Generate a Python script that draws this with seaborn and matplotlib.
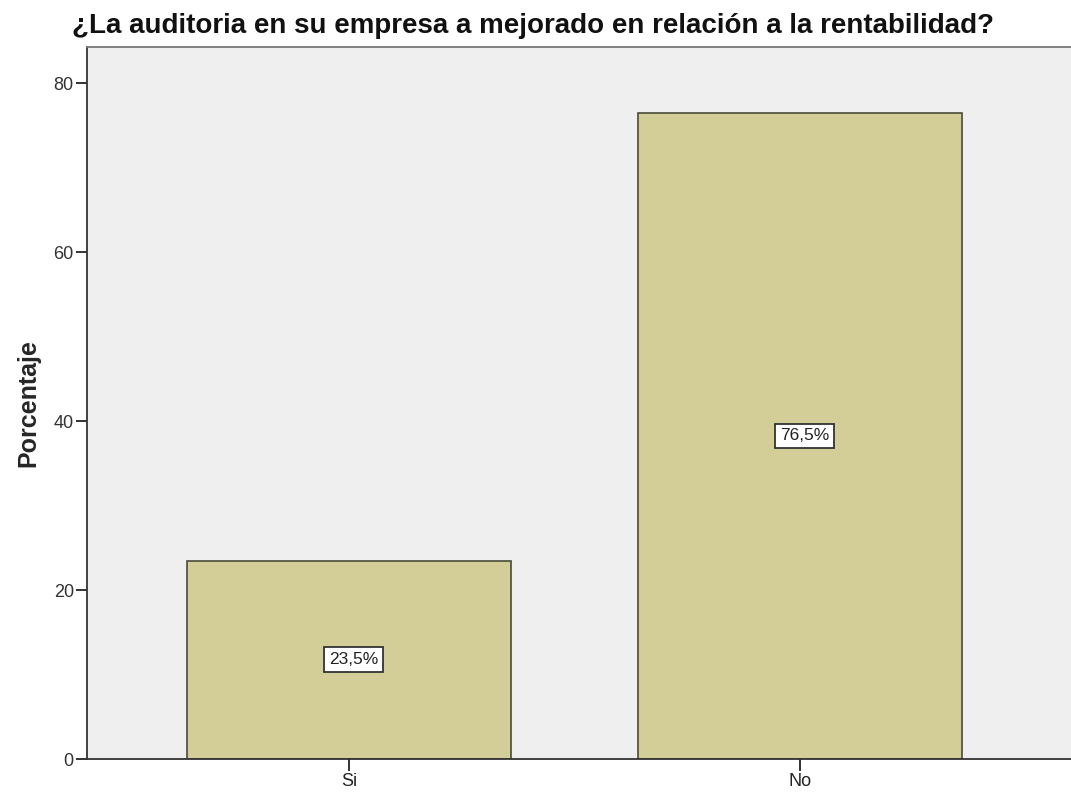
import matplotlib.pyplot as plt
import pandas as pd
import seaborn as sns

# Data
categories = ["Si", "No"]
percentages = [23.5, 76.5]
bar_labels = ["23,5%", "76,5%"]
y_ticks = [0, 20, 40, 60, 80]

df = pd.DataFrame({"respuesta": categories, "porcentaje": percentages})

sns.set_style("white")
plt.rcParams["font.family"] = ["Liberation Sans", "DejaVu Sans"]

fig = plt.figure(figsize=(10.71, 7.94), dpi=100)
ax = fig.add_axes([87 / 1071, 35 / 794, 1 - 87 / 1071, 712 / 794])
ax.set_facecolor("#efefef")

sns.barplot(
    data=df, x="respuesta", y="porcentaje", order=categories,
    color="#d3ce97", edgecolor="#4a4a3a", linewidth=1.2,
    width=0.72, saturation=1, ax=ax,
)

# value boxes in the middle of each bar
for i, (val, lab) in enumerate(zip(percentages, bar_labels)):
    ax.text(
        i + 0.01, val / 2, lab, ha="center", va="center", fontsize=12.5,
        color="#222222",
        bbox=dict(boxstyle="square,pad=0.28", facecolor="white",
                  edgecolor="#333333", linewidth=1.3),
    )

ax.set_xlim(-0.581, 1.601)
ax.set_ylim(0, 84.3)
ax.set_yticks(y_ticks)
ax.set_xlabel("")
ax.set_ylabel("Porcentaje", fontsize=18, fontweight="bold")
ax.yaxis.set_label_coords(-0.047, 0.5)
ax.tick_params(axis="y", direction="out", length=8, width=1.3, color="#222222",
               labelsize=13, labelcolor="#333333", pad=1.5, left=True)
ax.tick_params(axis="x", direction="out", length=8.5, width=1.3, color="#222222",
               labelsize=13, labelcolor="#222222", pad=1.5, bottom=True)

for side in ["left", "bottom"]:
    ax.spines[side].set_color("#333333")
    ax.spines[side].set_linewidth(1.3)
ax.spines["top"].set_color("#777777")
ax.spines["top"].set_linewidth(1.3)
ax.spines["right"].set_visible(False)

fig.text(72 / 1071, 1 - 33 / 794,
         "¿La auditoria en su empresa a mejorado en relación a la rentabilidad?",
         fontsize=20, fontweight="bold", ha="left", va="baseline", color="#111111")

fig.savefig("out.png", dpi=100)
